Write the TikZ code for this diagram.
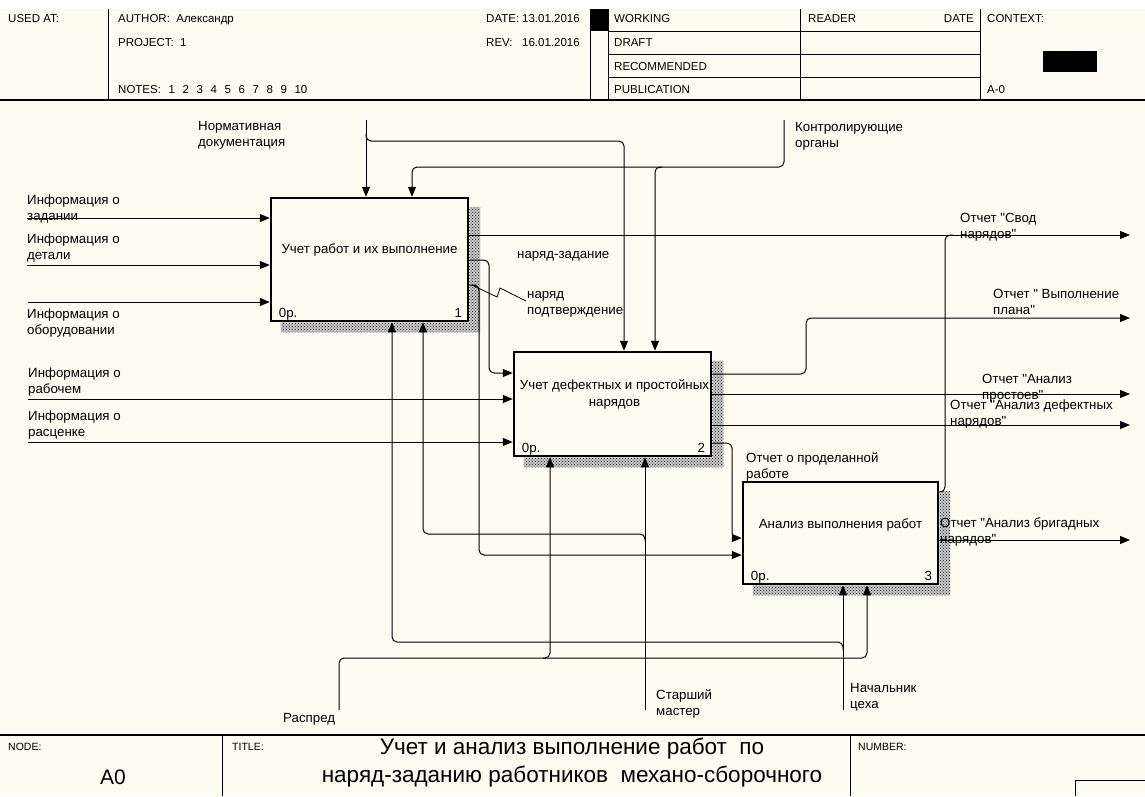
\documentclass[tikz,border=0pt]{standalone}
\usepackage{fontspec}
\setmainfont{Liberation Sans}[Ligatures=TeXOff]
\usepackage{tikz}
\usetikzlibrary{arrows.meta,calc,positioning,patterns}
\definecolor{idefpaper}{RGB}{254,251,240}
\definecolor{idefshade}{RGB}{30,30,30}
\newcommand{\lblfont}{\fontsize{13.3}{16.5}\selectfont}
\newcommand{\gap}{\hspace{7.6pt}}
% штриховая тень блока
\newcommand{\boxshadow}[1]{%
  \fill[preaction={fill=gray!45},pattern=crosshatch dots,pattern color=idefshade]
    ($(#1.north east)+(0,10)$) -- ($(#1.north east)+(11,10)$) -- ($(#1.south east)+(11,10)$)
    -- ($(#1.south west)+(11,10)$) -- ($(#1.south west)+(11,0)$) -- (#1.south east) -- cycle;}

\begin{document}
\begin{tikzpicture}[x=1pt,y=-1pt,>={Triangle[length=10pt,width=8pt]},
  flow/.style={line width=1pt,->,rounded corners=5pt},
  merge/.style={line width=1pt,rounded corners=5pt},
  fnbox/.style={draw,line width=2.5pt,fill=idefpaper,inner sep=0pt},
  boxtext/.style={font=\lblfont,align=center,inner sep=0pt},
  lbl/.style={font=\lblfont,align=left,anchor=base west,inner sep=0pt},
  hdr/.style={font=\fontsize{11.5}{14}\selectfont,anchor=base west,inner sep=0pt},
  foot/.style={font=\fontsize{10.5}{12}\selectfont,anchor=base west,inner sep=0pt},
  rule/.style={line width=1pt}]
  \useasboundingbox (0,0) rectangle (1145,796);
  \fill[white] (0,0) rectangle (1145,796);
  \fill[idefpaper] (0,9) rectangle (1145,796);

  % шапка
  \draw[rule] (108,9) -- (108,100);
  \draw[rule] (590,9) -- (590,100);
  \draw[rule] (608,9) -- (608,100);
  \draw[rule] (800,9) -- (800,100);
  \draw[rule] (980,9) -- (980,100);
  \foreach \yy in {31,54,77} \draw[rule] (608,\yy) -- (980,\yy);
  \fill[black] (590,9) rectangle (608,31);
  \fill[black] (1043,51) rectangle (1097,72);
  \draw[line width=1.6pt] (0,100) -- (1145,100);
  \node[hdr] (usedat) at (8,22) {USED AT:};
  \node[hdr] (author) at (118,22) {AUTHOR:\ \ Александр};
  \node[hdr] (project) at (118,46) {PROJECT:\ \ 1};
  \node[hdr] (notes) at (118,93) {NOTES:\gap 1\gap 2\gap 3\gap 4\gap 5\gap 6\gap 7\gap 8\gap 9\gap 10};
  \node[hdr] (datek) at (486,22) {DATE:};
  \node[hdr] (datev) at (522,22) {13.01.2016};
  \node[hdr] (revk) at (486,46) {REV:};
  \node[hdr] (revv) at (522,46) {16.01.2016};
  \node[hdr] (working) at (614,22) {WORKING};
  \node[hdr] (draft) at (614,46) {DRAFT};
  \node[hdr] (recom) at (614,70) {RECOMMENDED};
  \node[hdr] (publ) at (614,93) {PUBLICATION};
  \node[hdr] (reader) at (808,22) {READER};
  \node[hdr,anchor=base east] (rdate) at (974,22) {DATE};
  \node[hdr] (context) at (987,22) {CONTEXT:};
  \node[hdr] (ctxnode) at (987,93) {A-0};

  % блоки
  \node[fnbox,minimum width=197pt,minimum height=123pt] (b1) at (369.5,259.5) {};
  \node[fnbox,minimum width=197pt,minimum height=104pt] (b2) at (612.5,404) {};
  \node[fnbox,minimum width=195pt,minimum height=102pt] (b3) at (840.5,533) {};
  \boxshadow{b1}
  \boxshadow{b2}
  \boxshadow{b3}
  \node[boxtext] (t1) at ([yshift=9.5pt]b1.center) {Учет работ и их выполнение};
  \node[boxtext] (t2) at ([xshift=2pt,yshift=9.5pt]b2.center) {Учет дефектных и простойных\\нарядов};
  \node[boxtext] (t3) at ([yshift=8pt]b3.center) {Анализ выполнения работ};
  \node[lbl] (c1) at ([xshift=9pt,yshift=5pt]b1.south west) {0р.};
  \node[lbl,anchor=base east] (n1) at ([xshift=-7pt,yshift=5pt]b1.south east) {1};
  \node[lbl] (c2) at ([xshift=9pt,yshift=5pt]b2.south west) {0р.};
  \node[lbl,anchor=base east] (n2) at ([xshift=-7pt,yshift=5pt]b2.south east) {2};
  \node[lbl] (c3) at ([xshift=9pt,yshift=5pt]b3.south west) {0р.};
  \node[lbl,anchor=base east] (n3) at ([xshift=-7pt,yshift=5pt]b3.south east) {3};

  % входы
  \coordinate (inZad) at (27,218);
  \coordinate (inDet) at (27,265);
  \coordinate (inObr) at (28,302);
  \coordinate (inRab) at (28,399);
  \coordinate (inRas) at (28,442);
  \draw[flow] (inZad) -- (inZad -| b1.west);
  \draw[flow] (inDet) -- (inDet -| b1.west);
  \draw[flow] (inObr) -- (inObr -| b1.west);
  \draw[flow] (inRab) -- (inRab -| b2.west);
  \draw[flow] (inRas) -- (inRas -| b2.west);
  \node[lbl] (lZad) at (27,220.5) {Информация о\\задании};
  \node[lbl] (lDet) at (27,259.5) {Информация о\\детали};
  \node[lbl] (lObr) at (27,334.5) {Информация о\\оборудовании};
  \node[lbl] (lRab) at (28,393.5) {Информация о\\рабочем};
  \node[lbl] (lRas) at (28,436.5) {Информация о\\расценке};

  % управление
  \coordinate (normTop) at (366,120);
  \coordinate (normB2) at (624,141);
  \coordinate (ctrlTop) at (784,120);
  \coordinate (ctrlB1) at (412,167);
  \coordinate (ctrlB2) at (655,167);
  \draw[flow] (normTop) -- (normTop |- b1.north);
  \draw[flow] (366,134) -- (366,141) -- (normB2) -- (normB2 |- b2.north);
  \draw[flow] (ctrlTop) |- (ctrlB1) -- (ctrlB1 |- b1.north);
  \draw[flow] ($(ctrlB2)+(7,0)$) -- (ctrlB2) -- (ctrlB2 |- b2.north);
  \node[lbl] (lNorm) at (198,146.5) {Нормативная\\документация};
  \node[lbl] (lCtrl) at (795,147.5) {Контролирующие\\органы};

  % связи между блоками
  \draw[flow] (b1.east |- 0,260) -- (489,260) |- (b2.west |- 0,373);
  \draw[flow] (b1.east |- 0,285) -- (479,285) |- (b3.west |- 0,555);
  \draw[flow] (b2.east |- 0,443) -- (732,443) |- (b3.west |- 0,538);
  \coordinate (sqEnd) at (526,301);
  \draw[line width=0.8pt] (472,285) -- (497,297) -- (500,288) -- (sqEnd);
  \node[lbl] (lZadan) at (517,258) {наряд-задание};
  \node[lbl] (lPodt) at (527,314.5) {наряд\\подтверждение};
  \node[lbl] (lProd) at (746,478.5) {Отчет о проделанной\\работе};

  % выходы
  \coordinate (outSvod) at (1130,235);
  \coordinate (outPlan) at (1130,318);
  \coordinate (outProst) at (1130,394);
  \coordinate (outDef) at (1130,425);
  \coordinate (outBrig) at (1130,540);
  \draw[flow] (outSvod -| b1.east) -- (outSvod);
  \draw[flow] (b2.east |- 0,374) -- (806,374) |- (outPlan);
  \draw[flow] (outProst -| b2.east) -- (outProst);
  \draw[flow] (outDef -| b2.east) -- (outDef);
  \draw[flow] (outBrig -| b3.east) -- (outBrig);
  \draw[merge] (b3.east |- 0,492) -- (945,492) -- (945,235) -- (953,235);
  \node[lbl] (lSvod) at (960,238.5) {Отчет "Свод\\нарядов"};
  \node[lbl] (lPlan) at (993,314.5) {Отчет " Выполнение\\плана"};
  \node[lbl] (lProst) at (982,399.5) {Отчет "Анализ\\простоев"};
  \node[lbl] (lDef) at (950,425.5) {Отчет "Анализ дефектных\\нарядов"};
  \node[lbl] (lBrig) at (940,543.5) {Отчет "Анализ бригадных\\нарядов"};

  % механизмы
  \coordinate (raspBot) at (339,710);
  \coordinate (mastBot) at (645,710);
  \coordinate (nachBot) at (843,710);
  \coordinate (raspB2) at (550,658);
  \coordinate (raspB3) at (867,658);
  \coordinate (mastB1) at (423,534);
  \coordinate (nachB1) at (392,642);
  \draw[flow] (mastBot) -- (mastBot |- b2.south);
  \draw[flow] (nachBot) -- (nachBot |- b3.south);
  \draw[flow] (raspBot) |- (raspB3) -- (raspB3 |- b3.south);
  \draw[flow] ($(raspB2)+(-7,0)$) -- (raspB2) -- (raspB2 |- b2.south);
  \draw[flow] ($(mastBot |- mastB1)+(0,7)$) |- (mastB1) -- (mastB1 |- b1.south);
  \draw[flow] ($(nachBot |- nachB1)+(0,8)$) |- (nachB1) -- (nachB1 |- b1.south);
  \node[lbl] (lRasp) at (283,722) {Распред};
  \node[lbl] (lMast) at (656,715.5) {Старший\\мастер};
  \node[lbl] (lNach) at (850,708.5) {Начальник\\цеха};

  % штамп
  \draw[line width=1.6pt] (0,735) -- (1145,735);
  \draw[rule] (222,735) -- (222,796);
  \draw[rule] (850,735) -- (850,796);
  \draw[rule] (1075,796) -- (1075,780) -- (1145,780);
  \node[foot] (nodek) at (8,750) {NODE:};
  \node[foot] (titlek) at (232,750) {TITLE:};
  \node[foot] (numberk) at (858,750) {NUMBER:};
  \node[font=\fontsize{21}{24}\selectfont,inner sep=0pt] (nodev) at (113,777) {A0};
  \node[font=\fontsize{22.5}{28}\selectfont,align=center,inner sep=0pt] (title) at (572,763)
    {Учет и анализ выполнение работ\ \ по\\наряд-заданию работников\ \ механо-сборочного};
\end{tikzpicture}
\end{document}
